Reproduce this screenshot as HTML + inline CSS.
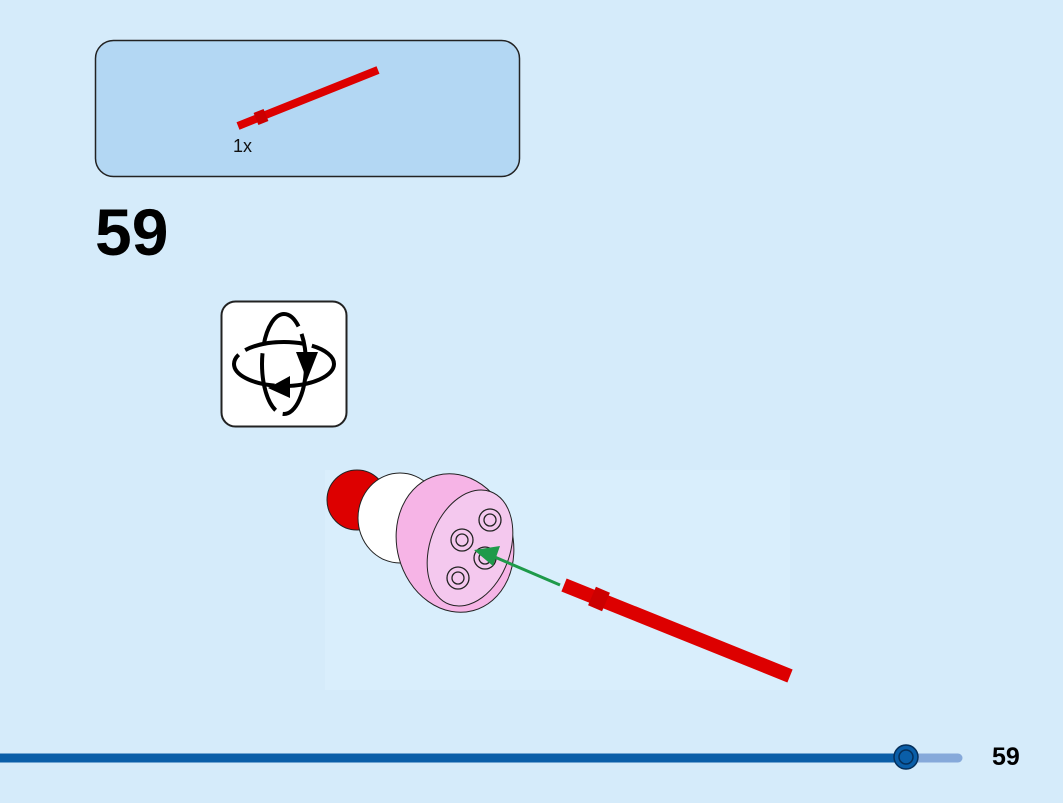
<!DOCTYPE html>
<html><head><style>
html,body{margin:0;padding:0;width:1063px;height:803px;overflow:hidden;background:#d5ebfa;font-family:"Liberation Sans",sans-serif;}
</style></head><body>
<svg width="1063" height="803" viewBox="0 0 1063 803" xmlns="http://www.w3.org/2000/svg">
<rect width="1063" height="803" fill="#d5ebfa"/>
<rect x="95.5" y="40.5" width="424" height="136" rx="18" fill="#b3d7f3" stroke="#222" stroke-width="1.5"/>
<line x1="238" y1="126" x2="378" y2="70" stroke="#dd0000" stroke-width="8"/>
<line x1="256" y1="119" x2="266" y2="115" stroke="#cc0000" stroke-width="13"/>
<text x="233" y="152" font-size="18" fill="#111">1x</text>
<text x="95" y="255" font-size="66" font-weight="bold" fill="#000">59</text>
<rect x="221.5" y="301.5" width="125" height="125" rx="14" fill="#fff" stroke="#222" stroke-width="2"/>
<g fill="none" stroke="#000" stroke-width="4">
<ellipse cx="284" cy="364" rx="50" ry="22" stroke-dasharray="60 8"/>
<ellipse cx="284" cy="364" rx="22" ry="50" stroke-dasharray="60 8"/>
</g>
<polygon points="296,352 318,352 307,380" fill="#000"/>
<polygon points="290,376 290,398 268,388" fill="#000"/>
<rect x="325" y="470" width="465" height="220" fill="#d9eefc"/>
<circle cx="357" cy="500" r="30" fill="#dd0000" stroke="#222"/>
<ellipse cx="400" cy="518" rx="42" ry="45" fill="#fff" stroke="#222"/>
<ellipse cx="455" cy="543" rx="58" ry="70" fill="#f6b4e6" stroke="#222" transform="rotate(-15 455 543)"/>
<ellipse cx="470" cy="548" rx="40" ry="60" fill="#f4c8ee" stroke="#222" transform="rotate(20 470 548)"/>
<g fill="#f4c8ee" stroke="#222" stroke-width="1.3">
<circle cx="490" cy="520" r="11"/><circle cx="462" cy="540" r="11"/><circle cx="485" cy="558" r="11"/><circle cx="458" cy="578" r="11"/>
<circle cx="490" cy="520" r="6"/><circle cx="462" cy="540" r="6"/><circle cx="485" cy="558" r="6"/><circle cx="458" cy="578" r="6"/>
</g>
<line x1="560" y1="585" x2="490" y2="555" stroke="#1e9a4a" stroke-width="3"/>
<polygon points="474,550 500,546 493,566" fill="#1e9a4a"/>
<line x1="564" y1="585" x2="790" y2="676" stroke="#dd0000" stroke-width="14"/>
<line x1="592" y1="596" x2="606" y2="602" stroke="#cc0000" stroke-width="20"/>
<line x1="0" y1="758" x2="905" y2="758" stroke="#0a5ea8" stroke-width="9"/>
<line x1="905" y1="758" x2="958" y2="758" stroke="#86a9da" stroke-width="9" stroke-linecap="round"/>
<circle cx="906" cy="757" r="12" fill="#0a5ea8" stroke="#052f5a" stroke-width="1.5"/>
<circle cx="906" cy="757" r="7" fill="none" stroke="#052f5a" stroke-width="1.5"/>
<text x="992" y="765" font-size="25" font-weight="bold" fill="#000">59</text>
</svg>
</body></html>
